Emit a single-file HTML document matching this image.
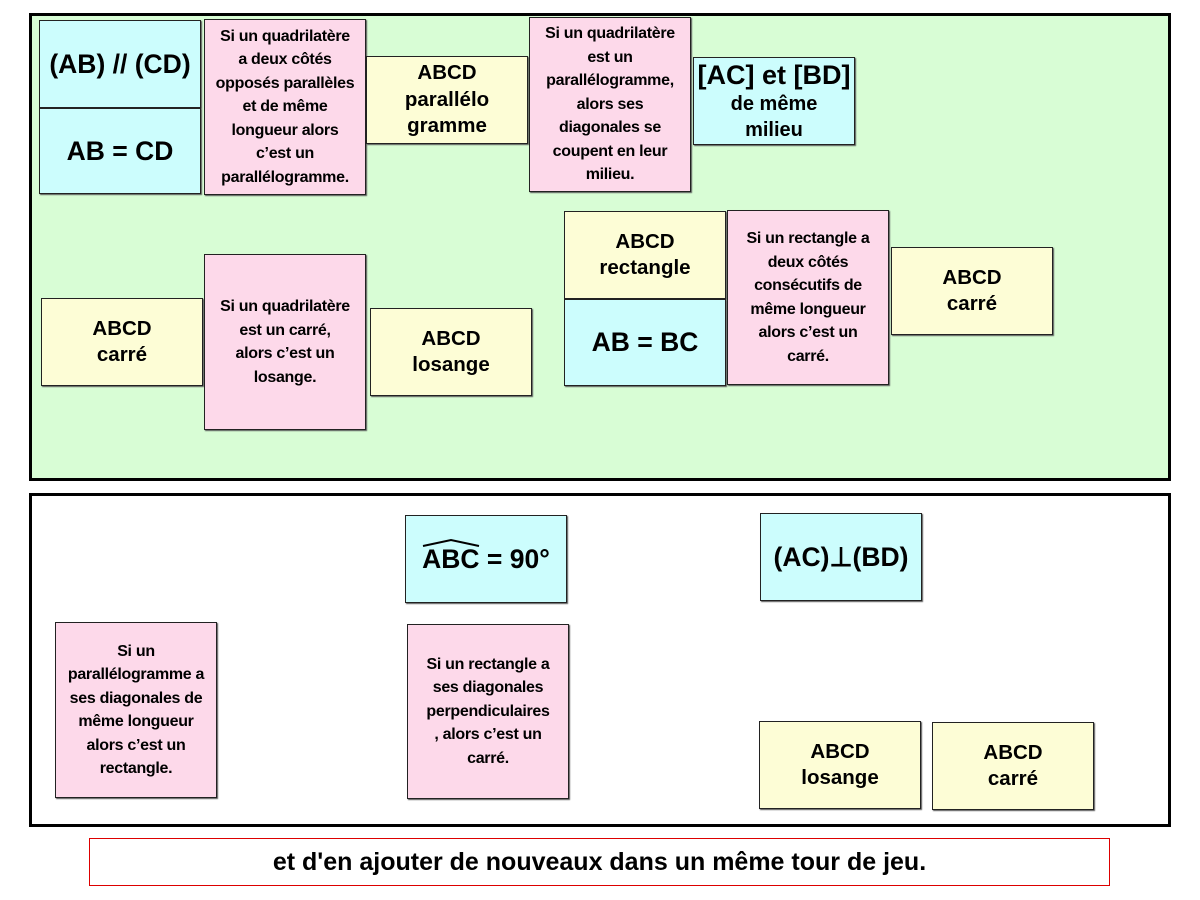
<!DOCTYPE html>
<html><head><meta charset="utf-8"><style>
body{margin:0;width:1200px;height:900px;background:#fff;position:relative;font-family:"Liberation Sans",sans-serif;font-weight:bold;color:#000;overflow:hidden}
.p{position:absolute;box-sizing:border-box}
.b{position:absolute;box-sizing:border-box;border:1.5px solid #222;display:flex;align-items:center;justify-content:center;text-align:center;box-shadow:1px 1px 1px #555}
.c{background:#ccfdfd}.k{background:#fdd9ea}.y{background:#fdfdd6}
.k{font-size:16px;line-height:23.5px;letter-spacing:-0.3px}
.y{font-size:20.5px;line-height:26.5px}
.big{font-size:26.5px}
</style></head><body>
<div class="p" style="left:29px;top:13px;width:1142px;height:468px;background:#d8fdd5;border:3px solid #000"></div>
<div class="p" style="left:29px;top:493px;width:1142px;height:334px;background:#fff;border:3px solid #000"></div>
<div class="p" style="left:89px;top:838px;width:1021px;height:48px;border:1.5px solid #d00;display:flex;align-items:center;justify-content:center;font-size:25px">et d'en ajouter de nouveaux dans un même tour de jeu.</div>

<div class="b c big" style="left:39px;top:20px;width:162px;height:88px">(AB) // (CD)</div>
<div class="b c big" style="left:39px;top:108px;width:162px;height:86px">AB = CD</div>
<div class="b k" style="left:204px;top:19px;width:162px;height:176px">Si un quadrilatère<br>a deux côtés<br>opposés parallèles<br>et de même<br>longueur alors<br>c’est un<br>parallélogramme.</div>
<div class="b y" style="left:366px;top:56px;width:162px;height:88px">ABCD<br>parallélo<br>gramme</div>
<div class="b k" style="left:529px;top:17px;width:162px;height:175px">Si un quadrilatère<br>est un<br>parallélogramme,<br>alors ses<br>diagonales se<br>coupent en leur<br>milieu.</div>
<div class="b c" style="left:693px;top:57px;width:162px;height:88px;flex-direction:column"><span style="font-size:27px;line-height:31px">[AC] et [BD]</span><span style="font-size:20px;line-height:26px">de même<br>milieu</span></div>

<div class="b y" style="left:564px;top:211px;width:162px;height:88px">ABCD<br>rectangle</div>
<div class="b c big" style="left:564px;top:299px;width:162px;height:87px">AB = BC</div>
<div class="b k" style="left:727px;top:210px;width:162px;height:175px">Si un rectangle a<br>deux côtés<br>consécutifs de<br>même longueur<br>alors c’est un<br>carré.</div>
<div class="b y" style="left:891px;top:247px;width:162px;height:88px">ABCD<br>carré</div>

<div class="b y" style="left:41px;top:298px;width:162px;height:88px">ABCD<br>carré</div>
<div class="b k" style="left:204px;top:254px;width:162px;height:176px">Si un quadrilatère<br>est un carré,<br>alors c’est un<br>losange.</div>
<div class="b y" style="left:370px;top:308px;width:162px;height:88px">ABCD<br>losange</div>

<div class="b c big" style="left:405px;top:515px;width:162px;height:88px"><span style="position:relative">ABC<svg style="position:absolute;left:0;top:-6px" width="58" height="10"><polyline points="1,8 29,2 57,8" fill="none" stroke="#000" stroke-width="2"/></svg></span>&nbsp;= 90°</div>
<div class="b c big" style="left:760px;top:513px;width:162px;height:88px">(AC)⊥(BD)</div>
<div class="b k" style="left:55px;top:622px;width:162px;height:176px">Si un<br>parallélogramme a<br>ses diagonales de<br>même longueur<br>alors c’est un<br>rectangle.</div>
<div class="b k" style="left:407px;top:624px;width:162px;height:175px">Si un rectangle a<br>ses diagonales<br>perpendiculaires<br>, alors c’est un<br>carré.</div>
<div class="b y" style="left:759px;top:721px;width:162px;height:88px">ABCD<br>losange</div>
<div class="b y" style="left:932px;top:722px;width:162px;height:88px">ABCD<br>carré</div>
</body></html>
